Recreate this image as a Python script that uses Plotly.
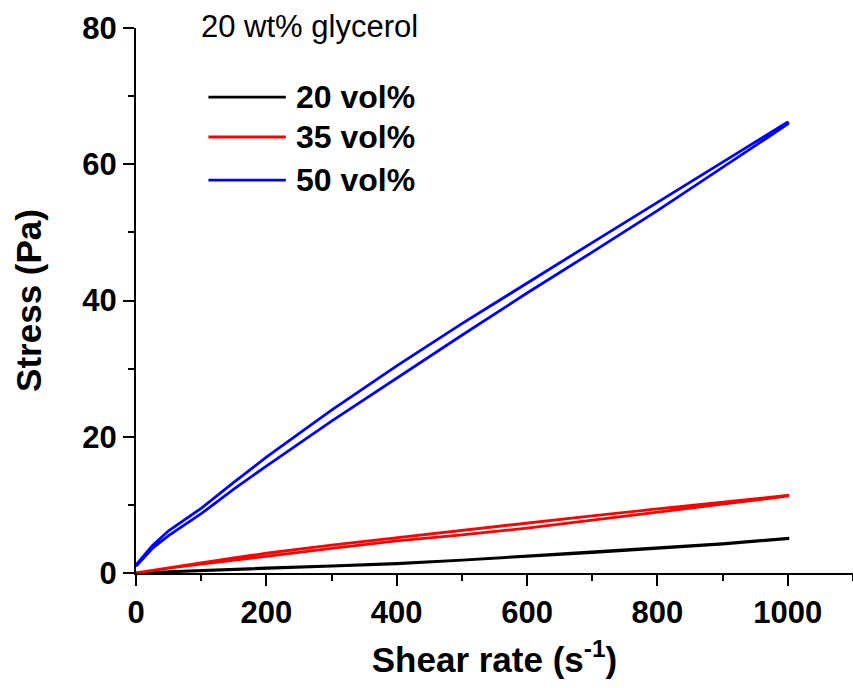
import plotly.graph_objects as go

# ---- data ----
shear_rate = [0, 25, 50, 100, 150, 200, 300, 400, 500, 600, 700, 800, 900, 1000]

stress_50_up   = [1.2, 4.0, 6.2, 9.5, 13.3, 17.0, 23.9, 30.4, 36.6, 42.6, 48.5, 54.4, 60.3, 66.2]
stress_50_down = [1.0, 3.6, 5.5, 8.7, 12.3, 15.7, 22.3, 28.6, 34.9, 41.1, 47.1, 53.2, 59.5, 65.9]

stress_35_up   = [0.0, 0.4, 0.8, 1.5, 2.2, 2.9, 4.1, 5.2, 6.3, 7.4, 8.4, 9.4, 10.4, 11.4]
stress_35_down = [0.0, 0.3, 0.7, 1.3, 1.9, 2.5, 3.6, 4.7, 5.6, 6.6, 7.8, 8.9, 10.1, 11.3]

stress_20_up   = [0.0, 0.1, 0.2, 0.35, 0.55, 0.75, 1.05, 1.4, 1.9, 2.5, 3.05, 3.65, 4.3, 5.1]
stress_20_down = [0.0, 0.1, 0.15, 0.3, 0.5, 0.7, 1.0, 1.35, 1.85, 2.45, 3.0, 3.6, 4.25, 5.05]

series_names = ["20 vol%", "35 vol%", "50 vol%"]
series_colors = ["#000000", "#FF0000", "#0000FF"]
series_up = [stress_20_up, stress_35_up, stress_50_up]
series_down = [stress_20_down, stress_35_down, stress_50_down]

x_ticks = [0, 200, 400, 600, 800, 1000]
y_ticks = [0, 20, 40, 60, 80]

FONT = "Liberation Sans, Arial, sans-serif"

fig = go.Figure()
for name, col, up, down in zip(series_names, series_colors, series_up, series_down):
    fig.add_trace(go.Scatter(
        x=shear_rate + shear_rate[::-1],
        y=up + down[::-1],
        mode="lines",
        name=name,
        line=dict(color=col, width=2.8),
        showlegend=False,
    ))

axis_common = dict(
    showline=True, linecolor="black", linewidth=2,
    ticks="outside", ticklen=11, tickwidth=2, tickcolor="black",
    showgrid=False, zeroline=False,
    tickfont=dict(family=FONT, size=31, color="black", weight="bold"),
)

fig.update_xaxes(
    range=[0, 1100], tickvals=x_ticks,
    minor=dict(ticks="outside", ticklen=6, tickwidth=2, tickcolor="black", dtick=100, tick0=0),
    title=dict(text="Shear rate (s<sup>-1</sup>)",
               font=dict(family=FONT, size=35, color="black", weight="bold"), standoff=18),
    **axis_common,
)
fig.update_yaxes(
    range=[0, 80], tickvals=y_ticks,
    minor=dict(ticks="outside", ticklen=6, tickwidth=2, tickcolor="black", dtick=10, tick0=0),
    title=dict(text="Stress (Pa)",
               font=dict(family=FONT, size=35, color="black", weight="bold"), standoff=30),
    **axis_common,
)

# custom legend (long sample lines like the reference)
legend_y = [0.873, 0.800, 0.721]
for name, col, ly in zip(series_names, series_colors, legend_y):
    fig.add_shape(type="line", xref="paper", yref="paper",
                  x0=0.101, x1=0.209, y0=ly, y1=ly,
                  line=dict(color=col, width=2.8))
    fig.add_annotation(xref="paper", yref="paper", x=0.220, y=ly, text=name,
                       showarrow=False, xanchor="left", yanchor="middle",
                       font=dict(family=FONT, size=32, color="black", weight="bold"))

fig.add_annotation(xref="paper", yref="paper", x=0.088, y=1.003,
                   text="20 wt% glycerol", showarrow=False,
                   xanchor="left", yanchor="middle",
                   font=dict(family=FONT, size=31, color="black"))

fig.update_layout(
    width=853, height=688,
    margin=dict(l=136, r=0, t=28, b=115),
    paper_bgcolor="white", plot_bgcolor="white",
    font=dict(family=FONT, color="black"),
)

fig.write_html("out.html")
